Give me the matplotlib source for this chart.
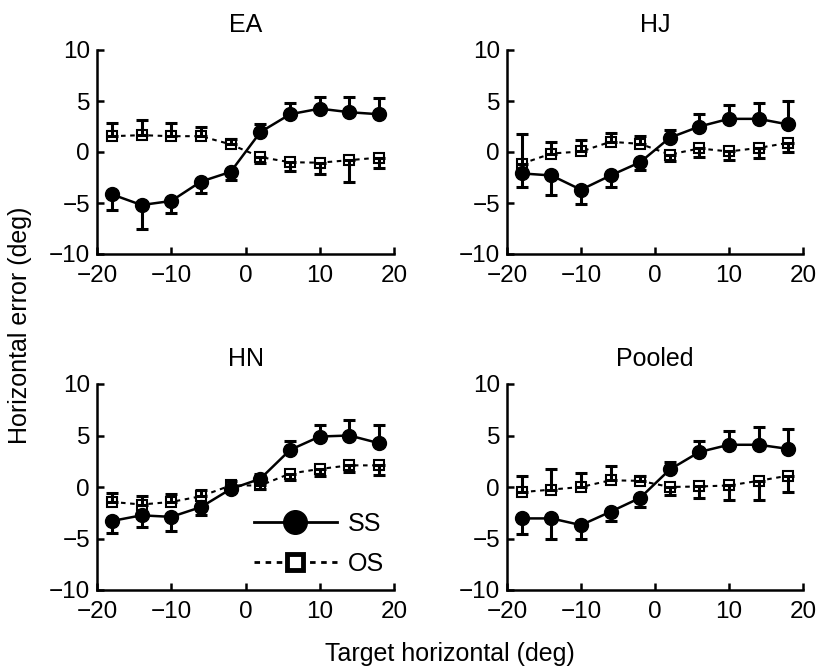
import matplotlib
matplotlib.use("Agg")
import matplotlib.pyplot as plt
from matplotlib.lines import Line2D
import numpy as np

plt.rcParams['font.family'] = ['Liberation Sans', 'DejaVu Sans']

x = np.array([-18, -14, -10, -6, -2, 2, 6, 10, 14, 18])
panels = ["EA", "HJ", "HN", "Pooled"]

ss_mean = {
    "EA": [-4.15, -5.2, -4.8, -2.9, -1.95, 1.95, 3.7, 4.25, 3.9, 3.7],
    "HJ": [-2.1, -2.3, -3.7, -2.3, -1.0, 1.4, 2.5, 3.25, 3.25, 2.7],
    "HN": [-3.3, -2.75, -2.9, -1.95, -0.2, 0.8, 3.6, 4.9, 5.0, 4.25],
    "Pooled": [-3.05, -3.05, -3.7, -2.4, -1.05, 1.7, 3.4, 4.1, 4.1, 3.7],
}
ss_err = {
    "EA": [1.55, 2.3, 1.15, 1.1, 0.75, 0.75, 1.15, 1.15, 1.5, 1.55],
    "HJ": [1.3, 1.9, 1.35, 1.1, 0.75, 0.8, 1.2, 1.4, 1.6, 2.3],
    "HN": [1.15, 1.15, 1.4, 0.8, 0.3, 0.5, 0.9, 1.1, 1.5, 1.75],
    "Pooled": [1.55, 1.95, 1.3, 0.9, 0.9, 0.7, 1.1, 1.3, 1.7, 1.95],
}
os_mean = {
    "EA": [1.55, 1.65, 1.55, 1.55, 0.75, -0.5, -1.0, -1.05, -0.8, -0.55],
    "HJ": [-1.15, -0.15, 0.05, 1.0, 0.8, -0.25, 0.35, 0.05, 0.4, 0.9],
    "HN": [-1.45, -1.7, -1.45, -0.9, 0.15, 0.15, 1.3, 1.75, 2.1, 2.1],
    "Pooled": [-0.5, -0.25, 0.0, 0.65, 0.6, 0.0, 0.05, 0.15, 0.6, 1.1],
}
os_err = {
    "EA": [1.25, 1.45, 1.3, 0.9, 0.55, 0.6, 0.85, 1.15, 2.15, 1.0],
    "HJ": [2.9, 1.15, 1.1, 0.9, 0.75, 0.65, 0.85, 0.8, 0.95, 0.9],
    "HN": [0.85, 0.8, 0.8, 0.6, 0.45, 0.3, 0.6, 0.65, 0.65, 0.9],
    "Pooled": [1.55, 1.95, 1.4, 1.35, 0.5, 0.8, 1.1, 1.45, 1.9, 1.6],
}

W, H = 821, 670
fig = plt.figure(figsize=(W / 100, H / 100), dpi=100)

# axes rectangles in pixels: left, top, right, bottom
rects = {
    "EA": (97, 50, 394, 254),
    "HJ": (507, 50, 803, 254),
    "HN": (97, 384, 394, 590),
    "Pooled": (507, 384, 803, 590),
}

neg = x < 0
for name in panels:
    l, t, r, b = rects[name]
    ax = fig.add_axes([l / W, 1 - b / H, (r - l) / W, (b - t) / H])
    ys = np.array(ss_mean[name]); es = np.array(ss_err[name])
    yo = np.array(os_mean[name]); eo = np.array(os_err[name])

    # OS: dashed with open squares; error bars upward for x<0, downward for x>0
    ax.plot(x, yo, ls=(0, (2.2, 2.2)), color='black', lw=1.5, marker='s',
            ms=7.5, mfc='white', mec='black', mew=1.5, zorder=2)
    ax.errorbar(x, yo, yerr=[np.where(neg, 0, eo), np.where(neg, eo, 0)],
                fmt='none', ecolor='black', elinewidth=2.2, capsize=4,
                capthick=2.2, zorder=3)
    # SS: solid with filled circles; error bars downward for x<0, upward for x>0
    ax.errorbar(x, ys, yerr=[np.where(neg, es, 0), np.where(neg, 0, es)],
                fmt='none', ecolor='black', elinewidth=2.2, capsize=4,
                capthick=2.2, zorder=4)
    ax.plot(x, ys, ls='-', color='black', lw=1.8, marker='o', ms=10,
            mfc='black', mec='black', zorder=5)

    ax.set_xlim(-20, 20)
    ax.set_ylim(-10, 10)
    ax.set_xticks([-20, -10, 0, 10, 20])
    ax.set_yticks([-10, -5, 0, 5, 10])
    for s in ['top', 'right']:
        ax.spines[s].set_visible(False)
    for s in ['left', 'bottom']:
        ax.spines[s].set_linewidth(1.8)
    ax.tick_params(direction='in', length=5, width=1.8, labelsize=17.5)
    ax.tick_params(axis='x', pad=8)
    ax.tick_params(axis='y', pad=5)
    ax.set_title(name, fontsize=18, pad=13)

    if name == "HN":
        handles = [
            Line2D([], [], ls='-', color='black', lw=2, marker='o', ms=17,
                   mfc='black', mec='black'),
            Line2D([], [], ls=(0, (2, 2)), color='black', lw=2, marker='s',
                   ms=12, mfc='white', mec='black', mew=3.5),
        ]
        ax.legend(handles, ["SS", "OS"], loc='lower right',
                  bbox_to_anchor=(1.0, 0.02), frameon=False, fontsize=18,
                  handlelength=3.3, handletextpad=0.45, labelspacing=0.65,
                  borderaxespad=0)

fig.text(20 / W, 1 - 325 / H, "Horizontal error (deg)", rotation=90,
         ha='center', va='center', fontsize=18)
fig.text(450 / W, 1 - 654 / H, "Target horizontal (deg)", ha='center',
         va='center', fontsize=18)

fig.savefig("out.png", dpi=100)
